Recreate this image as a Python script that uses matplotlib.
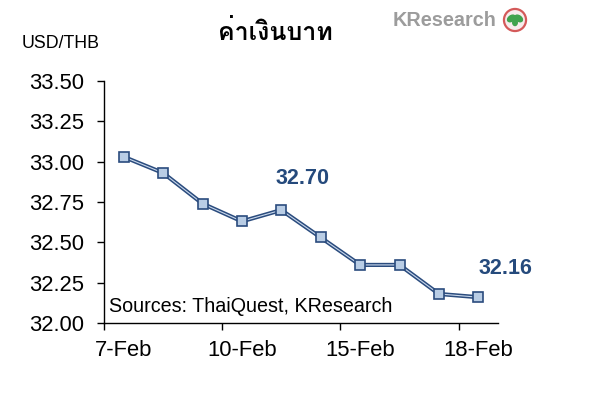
import matplotlib
matplotlib.use("Agg")
import matplotlib.pyplot as plt
from matplotlib import font_manager as fm
from matplotlib.ft2font import FT2Font
from matplotlib.patches import Circle, Ellipse

# ---- data ----
dates = ["7-Feb", "8-Feb", "9-Feb", "10-Feb", "11-Feb", "14-Feb", "15-Feb", "16-Feb", "17-Feb", "18-Feb"]
usd_thb = [33.03, 32.93, 32.74, 32.63, 32.70, 32.53, 32.36, 32.36, 32.18, 32.16]
label_idx = [0, 3, 6, 9]
y_ticks = [32.00, 32.25, 32.50, 32.75, 33.00, 33.25, 33.50]
annotated_idx = [4, 9]
title = "ค่าเงินบาท"
unit = "USD/THB"
source = "Sources: ThaiQuest, KResearch"

# find a font with Thai glyphs
thai_font = None
cands = []
for f in fm.fontManager.ttflist:
    try:
        ft = FT2Font(f.fname)
        if ft.get_char_index(0x0E04) and ft.get_char_index(0x0E48):
            cands.append(f)
    except Exception:
        pass
if cands:
    bold = [f for f in cands if f.weight in ("bold", 700) or "Bold" in f.fname]
    thai_font = (bold or cands)[0].name

plt.rcParams["font.family"] = ["Liberation Sans", "DejaVu Sans"]

dark = "#2B4C7E"
light = "#B9CDE5"

fig = plt.figure(figsize=(6.08, 3.97), dpi=100)
ax = fig.add_axes([104/608, 1-323/397, (498-104)/608, (323-81)/397])

x = list(range(len(usd_thb)))
ax.plot(x, usd_thb, color=dark, lw=3.0, solid_joinstyle="round", zorder=2)
ax.plot(x, usd_thb, color="#C9D8EC", lw=0.8, zorder=3)
ax.plot(x, usd_thb, ls="none", marker="s", markersize=7.8, markerfacecolor=light,
        markeredgecolor=dark, markeredgewidth=1.2, zorder=4)

offsets = {4: (0.53, 0.195), 9: (0.70, 0.175)}
for i in annotated_idx:
    dx, dy = offsets[i]
    ax.text(x[i] + dx, usd_thb[i] + dy, f"{usd_thb[i]:.2f}", color="#254A7C",
            fontsize=15.5, fontweight="bold", ha="center", va="center", zorder=5,
            clip_on=False)

ax.set_xlim(-0.5, 9.5)
ax.set_ylim(32.0, 33.5)
ax.set_yticks(y_ticks)
ax.set_yticklabels([f"{v:.2f}" for v in y_ticks], fontsize=15.8)
ax.set_xticks([-0.5, 2.5, 5.5, 8.5])
ax.set_xticklabels([])
ax.set_xticks(label_idx, minor=True)
ax.set_xticklabels([dates[i] for i in label_idx], minor=True, fontsize=15.8)
ax.tick_params(axis="both", which="major", direction="out", length=5, width=1, color="#000000")
ax.tick_params(axis="y", pad=9)
ax.tick_params(axis="x", which="minor", length=0, pad=12.6)
for s in ["top", "right"]:
    ax.spines[s].set_visible(False)
for s in ["left", "bottom"]:
    ax.spines[s].set_linewidth(1.0)
    ax.spines[s].set_color("#000000")

ax.text(0.012, 0.07, source, transform=ax.transAxes, fontsize=14.2, ha="left", va="center")

fig.text(22/608, 1-44/397, unit, fontsize=12.8, ha="left", va="center")

tkw = dict(fontsize=18, fontweight="bold", ha="center", va="center")
if thai_font:
    tkw["family"] = [thai_font, "DejaVu Sans"]
fig.text(275/608, 1-32/397, title, **tkw)

# logo
fig.text(393/608, 1-20/397, "KResearch", fontsize=14.3, fontweight="bold", color="#9C9C9C",
         ha="left", va="center")
lax = fig.add_axes([502/608, 1-33/397, 26/608, 26/397])
lax.set_xlim(-1, 1); lax.set_ylim(-1, 1); lax.axis("off"); lax.set_aspect("equal")
lax.add_patch(Circle((0, 0), 0.85, facecolor="#F6ECEC", edgecolor="#D45A5A", lw=1.6))
lax.add_patch(Ellipse((-0.28, 0.12), 0.65, 0.42, angle=35, color="#3FA34D"))
lax.add_patch(Ellipse((0.28, 0.12), 0.65, 0.42, angle=-35, color="#3FA34D"))
lax.add_patch(Ellipse((0, -0.2), 0.35, 0.45, color="#3FA34D"))

fig.savefig("out.png", dpi=100)
